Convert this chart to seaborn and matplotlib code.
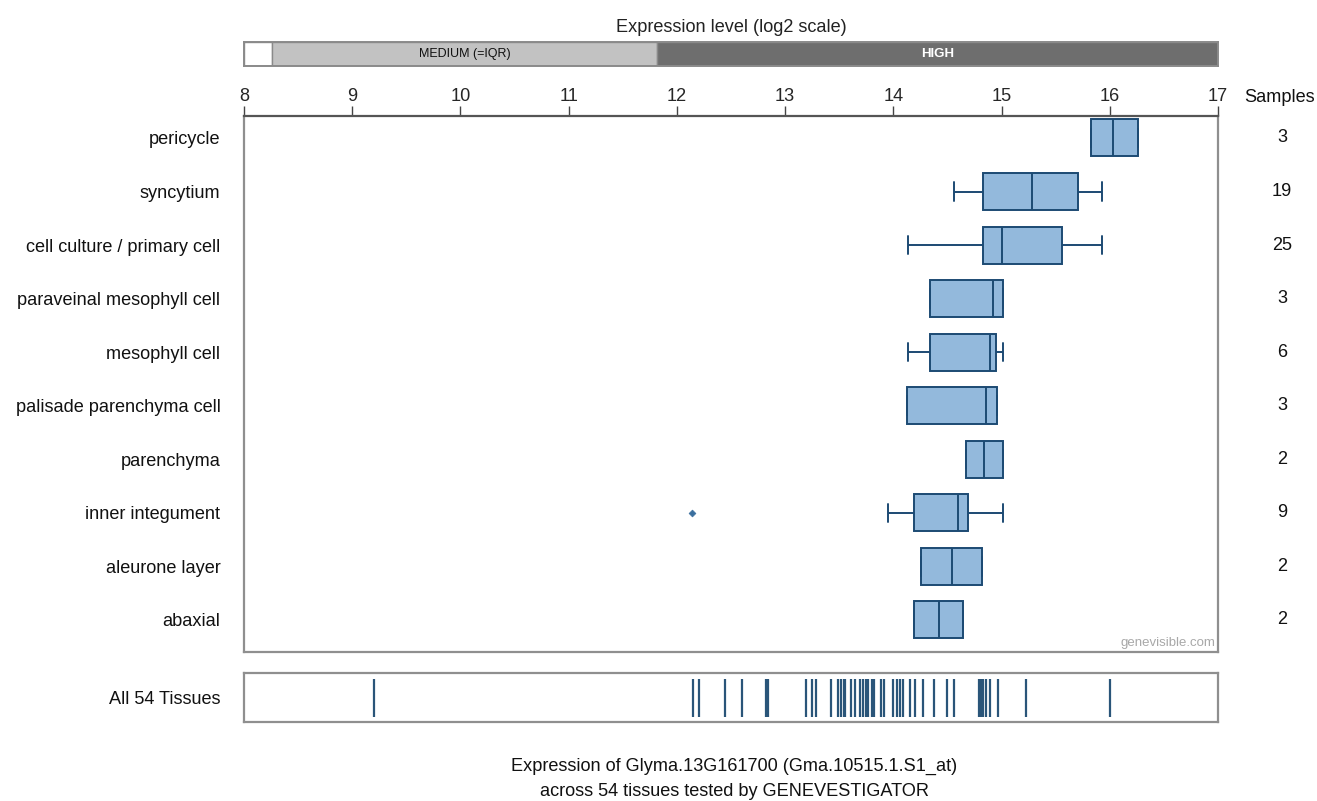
import numpy as np
import pandas as pd
import matplotlib
matplotlib.use("Agg")
import matplotlib.pyplot as plt
import matplotlib.transforms as mtransforms
import seaborn as sns

# ---------------- data ----------------
tissues = ["pericycle", "syncytium", "cell culture / primary cell",
           "paraveinal mesophyll cell", "mesophyll cell", "palisade parenchyma cell",
           "parenchyma", "inner integument", "aleurone layer", "abaxial"]
samples = [3, 19, 25, 3, 6, 3, 2, 9, 2, 2]
whisker_low = [15.83, 14.56, 14.14, 14.34, 14.14, 14.13, 14.67, 13.95, 14.26, 14.19]
q1 = [15.83, 14.83, 14.83, 14.34, 14.34, 14.13, 14.67, 14.19, 14.26, 14.19]
median = [16.03, 15.28, 15.00, 14.92, 14.89, 14.86, 14.84, 14.60, 14.54, 14.42]
q3 = [16.26, 15.71, 15.56, 15.01, 14.95, 14.96, 15.01, 14.69, 14.82, 14.64]
whisker_high = [16.26, 15.93, 15.93, 15.01, 15.01, 14.96, 15.01, 15.01, 14.82, 14.64]
outlier_tissue = ["inner integument"]
outlier_value = [12.14]

all_tissues = [9.20, 12.15, 12.20, 12.44, 12.60, 12.82, 12.84, 13.19, 13.25, 13.29,
               13.42, 13.49, 13.52, 13.54, 13.55, 13.61, 13.65, 13.69, 13.72, 13.745,
               13.77, 13.80, 13.82, 13.89, 13.91, 14.00, 14.03, 14.06, 14.09, 14.15,
               14.20, 14.27, 14.38, 14.50, 14.56, 14.79, 14.81, 14.83, 14.86, 14.89,
               14.97, 15.23, 16.00]

level_names = ["", "MEDIUM (=IQR)", "HIGH"]
level_start = [8.0, 8.26, 11.82]
level_end = [8.26, 11.82, 17.0]
level_colors = ["#ffffff", "#c2c2c2", "#6e6e6e"]
level_text_colors = ["#000000", "#111111", "#ffffff"]

x_ticks = [8, 9, 10, 11, 12, 13, 14, 15, 16, 17]

# table for seaborn boxplot: five points per tissue reproduce the drawn box stats
rows = []
for t, a, b, c, d, e in zip(tissues, whisker_low, q1, median, q3, whisker_high):
    for v in (a, b, c, d, e):
        rows.append({"tissue": t, "value": v})
df = pd.DataFrame(rows)

# ---------------- style ----------------
sns.set_theme(style="white")
plt.rcParams["font.family"] = ["Liberation Sans", "DejaVu Sans"]

FS = 13.1
W, H = 1317, 801
fig = plt.figure(figsize=(W / 100, H / 100), dpi=100)

def fx(px):
    return px / W

def fy(py):
    return 1 - py / H

box_fill = "#93b9dc"
box_edge = "#1c4a73"
frame_col = "#8f8f8f"

# main axes
ax = fig.add_axes([fx(244), fy(652), fx(1218) - fx(244), fy(116) - fy(652)])
sns.boxplot(data=df, x="value", y="tissue", order=tissues, orient="h",
            width=0.69, color=box_fill, linecolor=box_edge, linewidth=1.4,
            showfliers=False, saturation=1, ax=ax)
sns.scatterplot(x=outlier_value, y=outlier_tissue, ax=ax, marker="D", s=12,
                color="#3a6f9e", edgecolor="#3a6f9e", linewidth=0.5, zorder=5)
ax.set_xlim(8, 17)
ax.set_ylim(len(tissues) - 1 + 0.6, -0.41)
ax.set_xlabel("")
ax.set_ylabel("")
ax.xaxis.set_ticks_position("top")
ax.xaxis.set_label_position("top")
ax.set_xticks(x_ticks)
ax.set_xticklabels([str(t) for t in x_ticks], fontsize=FS)
ax.tick_params(axis="x", direction="out", length=7.5, width=1.0, color="#444444",
               pad=0.3, top=True, bottom=False, labeltop=True, labelbottom=False)
ax.tick_params(axis="y", length=0, pad=17, labelsize=FS)
for lab in ax.get_yticklabels():
    lab.set_color("#111111")
for s in ax.spines.values():
    s.set_color(frame_col)
    s.set_linewidth(1.6)
ax.spines["top"].set_color("#555555")

# sample counts
trans = mtransforms.blended_transform_factory(fig.transFigure, ax.transData)
for i, n in enumerate(samples):
    ax.text(fx(1282), i, str(n), transform=trans, ha="center", va="center",
            fontsize=FS, color="#111111")
fig.text(fx(1280), fy(98), "Samples", ha="center", va="center", fontsize=FS,
         color="#111111")

ax.text(0.997, 0.006, "genevisible.com", transform=ax.transAxes, ha="right",
        va="bottom", fontsize=9.5, color="#a8a8a8")

# rug axes
rax = fig.add_axes([fx(244), fy(722), fx(1218) - fx(244), fy(673) - fy(722)])
sns.scatterplot(x=all_tissues, y=[0] * len(all_tissues), marker="|", s=720,
                linewidth=1.6, color="#2a5579", ax=rax, legend=False)
rax.set_xlim(8, 17)
rax.set_ylim(-1, 1)
rax.set_xticks([])
rax.set_yticks([0])
rax.set_yticklabels(["All 54 Tissues"], fontsize=FS, color="#111111")
rax.tick_params(axis="y", length=0, pad=17)
for s in rax.spines.values():
    s.set_color(frame_col)
    s.set_linewidth(1.6)

# expression level bar
bax = fig.add_axes([fx(244), fy(66), fx(1218) - fx(244), fy(42) - fy(66)])
for name, a, b, c, tc in zip(level_names, level_start, level_end, level_colors,
                             level_text_colors):
    bax.barh(0, b - a, left=a, height=1, color=c, edgecolor="#8a8a8a", linewidth=1.0)
    if name:
        bax.text((a + b) / 2, 0, name, ha="center", va="center",
                 fontsize=9.5 if name == "HIGH" else 9,
                 color=tc, fontweight="bold" if name == "HIGH" else "normal")
bax.set_xlim(8, 17)
bax.set_ylim(-0.5, 0.5)
bax.set_xticks([])
bax.set_yticks([])
for s in bax.spines.values():
    s.set_color("#8a8a8a")
    s.set_linewidth(1.4)

fig.text(fx(731), fy(28), "Expression level (log2 scale)", ha="center", va="center",
         fontsize=FS, color="#222222")
fig.text(fx(734), fy(766), "Expression of Glyma.13G161700 (Gma.10515.1.S1_at)",
         ha="center", va="center", fontsize=FS, color="#111111")
fig.text(fx(734), fy(791), "across 54 tissues tested by GENEVESTIGATOR",
         ha="center", va="center", fontsize=FS, color="#111111")

fig.savefig("out.png", dpi=100, facecolor="white")
